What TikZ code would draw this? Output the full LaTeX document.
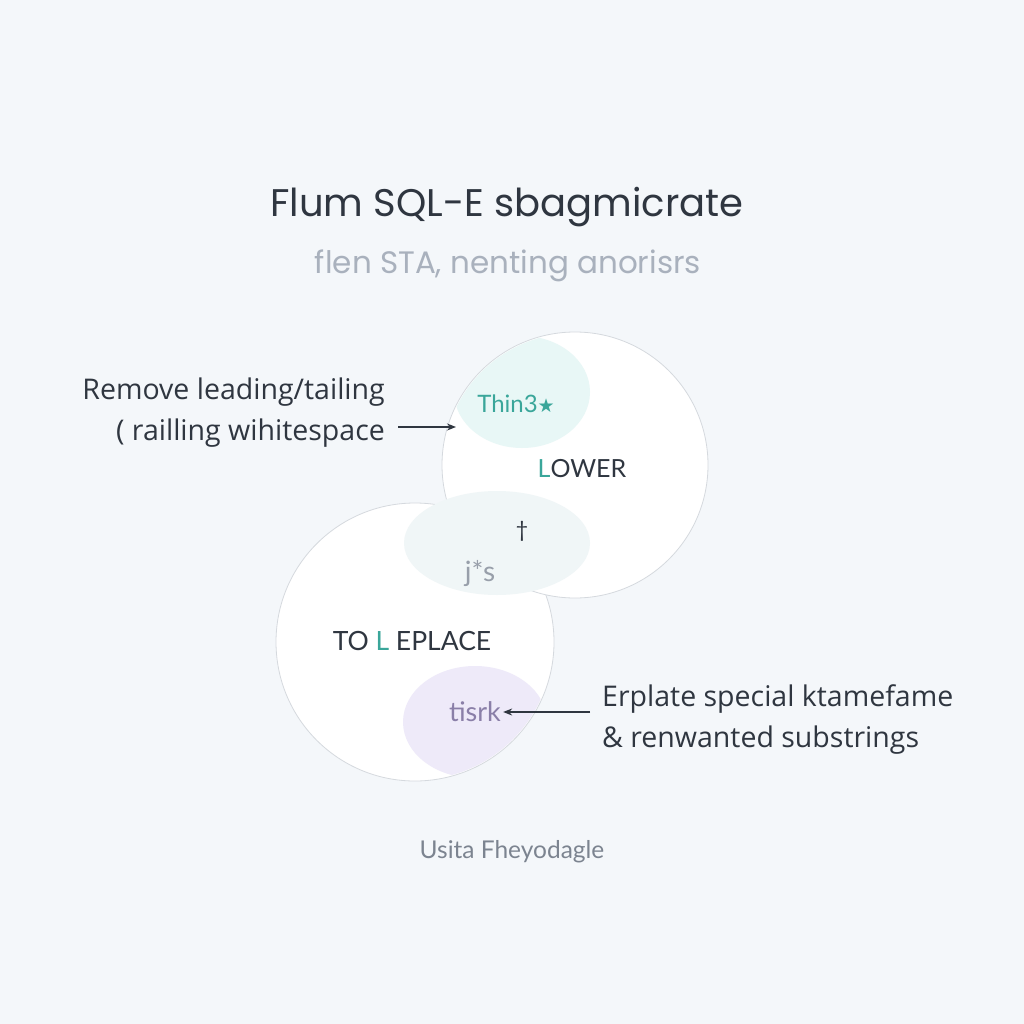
\documentclass[tikz,border=0pt]{standalone}
\usepackage{fontspec}
\setmainfont{Lato}
\newfontfamily\titlefont{Poppins}
\newfontfamily\notefont{Open Sans}
\newfontfamily\symfont{DejaVu Sans}
\usetikzlibrary{arrows.meta}
\definecolor{bg}{HTML}{F4F7FA}
\definecolor{ink}{HTML}{2F3640}
\definecolor{subgray}{HTML}{A9B1BD}
\definecolor{teal}{HTML}{3AA69A}
\definecolor{cyanblob}{HTML}{E8F7F6}
\definecolor{paleblob}{HTML}{F0F6F7}
\definecolor{lavblob}{HTML}{EEEAF9}
\definecolor{purp}{HTML}{8A7FA8}
\definecolor{ring}{HTML}{D5D9DE}
\definecolor{foot}{HTML}{7C8490}
\tikzset{
  bubble/.style={fill=white, draw=ring, line width=0.8pt},
  lbl/.style={text=ink, inner sep=0pt},
  conn/.style={draw=ink, line width=1.4pt, -{Stealth[length=9pt,width=7pt]}},
}
\begin{document}
\begin{tikzpicture}[x=1pt,y=-1pt]
\fill[bg] (0,0) rectangle (1024,1024);
\useasboundingbox (0,0) rectangle (1024,1024);
% circles
\draw[bubble] (415,642) circle[radius=139pt];
\draw[bubble] (575,465) circle[radius=133pt];
% blobs
\begin{scope}
\clip (575,465) circle[radius=132pt];
\fill[cyanblob] (522,392) ellipse[x radius=68pt, y radius=56pt];
\end{scope}
\fill[paleblob] (497,543) ellipse[x radius=93pt, y radius=52pt];
\begin{scope}
\clip (415,642) circle[radius=138pt];
\fill[lavblob] (475,722) ellipse[x radius=72pt, y radius=56pt];
\end{scope}
% title
\node[lbl, font=\titlefont\fontsize{38.5}{46}\selectfont] (title) at (507,207) {Flum SQL-E sbagmicrate};
\node[lbl, text=subgray, font=\titlefont\fontsize{31}{38}\selectfont] (sub) at (508,266) {flen STA, nenting anorisrs};
% left note
\node[lbl, align=right, anchor=east, font=\notefont\fontsize{28.5}{41}\selectfont] (left) at (385,413) {Remove leading/tailing\\( railling wihitespace};
\coordinate (lstart) at (398,427);
\node[lbl, text=teal, font=\fontsize{24}{28}\selectfont] (thin) at (516,404) {Thin3{\symfont\fontsize{19}{20}\selectfont ★}};
\draw[conn] (lstart) -- (456,427);
% inner labels
\node[lbl, font=\fontsize{25}{30}\selectfont] (lower) at (582,469) {\textcolor{teal}{L}OWER};
\node[lbl, font=\fontsize{22}{26}\selectfont] (dag) at (522,531) {†};
\node[lbl, text=subgray!90!black, font=\fontsize{28}{32}\selectfont] (js) at (480,573) {j*s};
\node[lbl, font=\fontsize{26.5}{32}\selectfont] (repl) at (412,641) {TO \textcolor{teal}{L} EPLACE};
\node[lbl, text=purp, font=\fontsize{27}{32}\selectfont] (tisrk) at (475,712) {tisrk};
% right note
\node[lbl, align=left, anchor=west, font=\notefont\fontsize{28.5}{41}\selectfont] (right) at (602,720) {Erplate special ktamefame\\\& renwanted substrings};
\coordinate (rstart) at (590,712);
\draw[conn] (rstart) -- ([xshift=2pt]tisrk.east);
% footer
\node[lbl, text=foot, font=\fontsize{24.5}{28}\selectfont] (footer) at (512,852) {Usita Fheyodagle};
\end{tikzpicture}
\end{document}
